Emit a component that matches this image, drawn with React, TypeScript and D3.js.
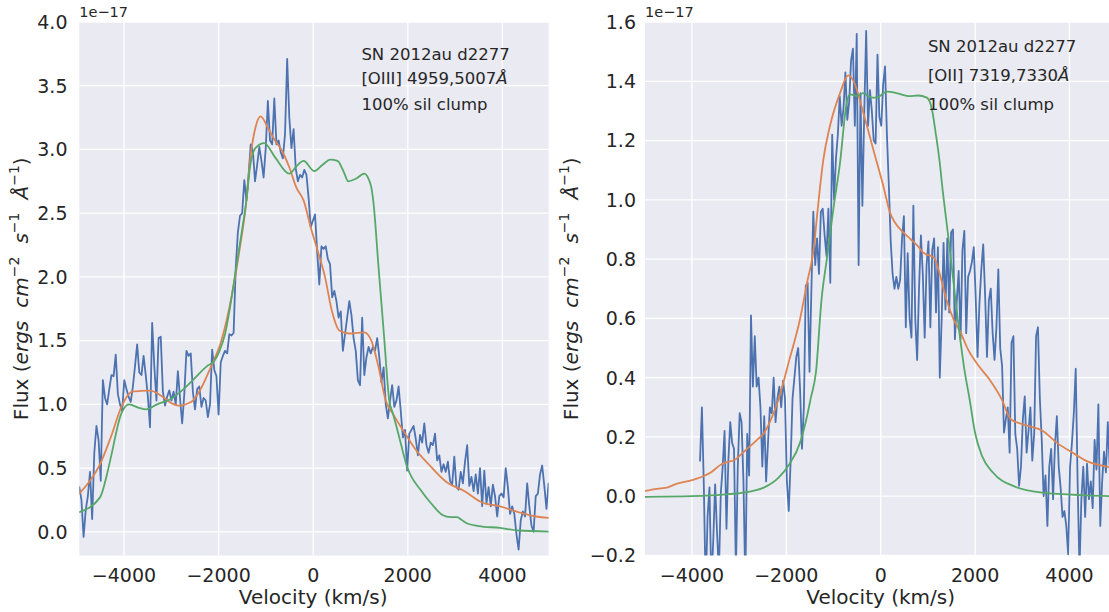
import React from 'react';
import * as d3 from 'd3';

// ---------- Left panel: [OIII] 4959,5007 ----------
const LEFT_BLUE_START = -4945;
const LEFT_BLUE_END = 4977;
const LEFT_BLUE = [
  0.35, 0.25, -0.04, 0.17, 0.28, 0.47, 0.10, 0.62, 0.83, 0.72, 0.40, 1.19,
  1.05, 1.00, 1.12, 1.23, 1.22, 1.39, 1.08, 1.00, 0.95, 1.19, 1.12, 1.06, 1.02, 1.14, 1.30, 1.47, 1.25, 1.23,
  1.38, 1.23, 1.06, 0.82, 1.64, 1.30, 1.03, 1.52, 1.53, 1.10, 0.99, 1.06, 1.11, 1.03, 1.10, 1.00, 1.26, 1.05,
  0.85, 1.08, 1.42, 1.38, 1.40, 1.10, 0.96, 1.12, 1.14, 0.98, 1.05, 1.03, 0.90, 1.00, 1.43, 1.27, 1.22, 0.92,
  1.33, 1.38, 1.42, 1.40, 1.55, 1.54, 1.56, 2.07, 2.35, 2.48, 2.50, 2.76, 2.60, 2.80, 3.04, 2.99, 2.75, 2.88,
  3.02, 2.91, 2.78, 3.01, 3.38, 3.07, 3.04, 3.40, 3.04, 3.07, 2.98, 2.93, 3.12, 3.71, 3.25, 3.01, 3.16, 2.85,
  2.75, 2.80, 2.78, 2.84, 2.80, 2.62, 2.39, 2.44, 2.49, 2.20, 1.94, 2.24, 2.22, 2.24, 2.14, 2.10, 1.84, 1.89,
  1.81, 1.68, 1.73, 1.42, 1.55, 1.68, 1.81, 1.70, 1.52, 1.42, 1.19, 1.15, 1.68, 1.23, 1.37, 1.45, 1.40, 1.45,
  1.42, 1.52, 1.37, 1.17, 1.29, 1.00, 0.89, 1.03, 1.15, 0.98, 1.03, 1.14, 0.95, 0.74, 0.80, 0.48, 0.77, 0.80,
  0.83, 0.73, 0.60, 0.76, 0.70, 0.85, 0.68, 0.62, 0.70, 0.68, 0.77, 0.56, 0.60, 0.47, 0.53, 0.47, 0.55, 0.40,
  0.37, 0.59, 0.35, 0.33, 0.47, 0.38, 0.55, 0.68, 0.36, 0.43, 0.32, 0.45, 0.30, 0.50, 0.20, 0.48, 0.22, 0.35,
  0.20, 0.37, 0.28, 0.12, 0.28, 0.30, 0.27, 0.50, 0.35, 0.14, 0.20, 0.14, -0.02, -0.14, 0.09, 0.16, 0.12, 0.38,
  0.20, 0.05, 0.00, 0.28, 0.30, 0.45, 0.52, 0.36, 0.18, 0.38,
];

const LEFT_ORANGE_V = [
  -4945, -4700, -4507, -4281, -4055, -3900, -3830, -3650, -3450, -3224, -3000, -2847, -2700, -2543, -2393,
  -2167, -1941, -1716, -1562, -1412, -1336, -1222, -1110, -958, -808, -660, -505, -355, -203, -53, 99, 249,
  397, 552, 778, 1080, 1230, 1383, 1533, 1685, 1911, 2137, 2440, 2816, 3194, 3570, 3950, 4330, 4704, 4977,
];
const LEFT_ORANGE_F = [
  0.30, 0.41, 0.53, 0.74, 0.98, 1.08, 1.10, 1.105, 1.107, 1.07, 1.01, 0.99, 1.00, 1.03, 1.11,
  1.29, 1.50, 1.865, 2.20, 2.60, 2.91, 3.17, 3.26, 3.17, 3.07, 2.99, 2.86, 2.70, 2.60, 2.39, 2.20, 2.00,
  1.73, 1.58, 1.556, 1.565, 1.50, 1.29, 1.03, 0.925, 0.79, 0.66, 0.53, 0.39, 0.32, 0.23, 0.20, 0.155, 0.12, 0.11,
];

const LEFT_GREEN_V = [
  -4945, -4507, -4360, -4280, -4055, -3890, -3700, -3527, -3300, -3150, -3072, -2800, -2543, -2245, -2091,
  -1980, -1865, -1750, -1638, -1520, -1412, -1336, -1222, -1034, -808, -505, -350, -203, 23, 200, 363, 514,
  650, 740, 900, 1080, 1180, 1230, 1269, 1383, 1495, 1609, 1685, 1800, 1985, 2288, 2500, 2742, 2900, 3042,
  3150, 3272, 3500, 3950, 4330, 4977,
];
const LEFT_GREEN_F = [
  0.154, 0.27, 0.45, 0.58, 0.93, 1.00, 0.975, 0.96, 1.00, 1.02, 1.03, 1.10, 1.19, 1.30, 1.34,
  1.42, 1.55, 1.78, 2.05, 2.33, 2.60, 2.86, 3.01, 3.05, 2.94, 2.81, 2.87, 2.91, 2.83, 2.88, 2.92, 2.91,
  2.82, 2.75, 2.77, 2.81, 2.76, 2.70, 2.60, 2.07, 1.55, 1.03, 0.93, 0.77, 0.51, 0.32, 0.22, 0.13, 0.115, 0.115,
  0.09, 0.063, 0.045, 0.03, 0.01, 0.002,
];

// ---------- Right panel: [OII] 7319,7330 ----------
const RIGHT_BLUE_START = -3828;
const RIGHT_BLUE_STEP = 40;
const RIGHT_BLUE = [
  0.12, 0.30, 0.04, -0.32, -0.07, 0.03, -0.30, -0.15, 0.04, -0.12, -0.26, 0.01, 0.10, 0.22, -0.11, 0.12,
  0.25, 0.18, 0.16, -0.25, 0.10, 0.28, 0.25, 0.05, -0.30, 0.21, 0.07, 0.61, 0.37, 0.54, 0.37, 0.40,
  0.30, 0.10, 0.27, 0.05, 0.18, 0.30, 0.28, 0.40, 0.25, 0.33, 0.37, 0.30, 0.39, 0.33, 0.05, -0.05,
  0.12, 0.33, 0.40, 0.47, 0.50, 0.36, 0.16, 0.30, 0.71, 0.72, 0.42, 0.70, 0.96, 0.78, 0.87, 0.75,
  0.96, 0.97, 0.88, 0.81, 0.97, 0.72, 1.22, 1.00, 1.14, 1.22, 1.35, 1.25, 1.31, 1.43, 1.27, 1.33,
  1.47, 1.51, 1.25, 1.56, 0.78, 1.36, 0.98, 1.30, 1.57, 1.25, 1.37, 1.30, 1.20, 1.19, 1.49, 1.28,
  1.25, 1.39, 1.45, 1.22, 1.05, 0.86, 0.75, 0.70, 0.74, 0.70, 0.73, 0.87, 0.945, 0.57, 0.82, 0.60,
  0.535, 0.98, 0.60, 0.46, 0.70, 0.88, 0.75, 0.535, 0.78, 0.86, 0.57, 0.83, 0.87, 0.62, 0.84, 0.40,
  0.60, 0.855, 0.63, 0.87, 0.62, 0.89, 0.90, 0.53, 0.66, 0.76, 0.53, 0.83, 0.895, 0.55, 0.74, 0.76,
  0.79, 0.84, 0.675, 0.47, 0.65, 0.765, 0.85, 0.68, 0.47, 0.66, 0.70, 0.55, 0.46, 0.57, 0.765, 0.50,
  0.44, 0.215, 0.26, 0.30, 0.147, 0.518, 0.54, 0.21, 0.16, 0.035, 0.10, 0.26, 0.337, 0.147, 0.22, 0.30,
  0.12, 0.21, 0.54, 0.57, 0.33, 0.19, 0.00, 0.07, -0.10, 0.10, 0.16, -0.01, 0.17, 0.27, 0.10, 0.03,
  -0.07, -0.05, -0.10, -0.196, 0.10, 0.18, 0.28, 0.43, 0.05, -0.25, -0.01, 0.10, -0.07, 0.11, -0.01, 0.05,
  -0.04, 0.19, 0.09, 0.31, -0.10, 0.05, 0.15, 0.08, 0.25, 0.10, 0.00, 0.08,
];

const RIGHT_ORANGE_V = [
  -4994, -4740, -4508, -4358, -3979, -3602, -3375, -3072, -2845, -2620, -2466, -2278, -2163, -1936, -1710,
  -1561, -1407, -1356, -1294, -1216, -1074, -862, -688, -574, -368, -157, 55, 197, 295, 447, 636, 788, 900,
  1129, 1242, 1392, 1544, 1695, 1847, 2074, 2301, 2565, 2754, 3133, 3436, 3735, 4117, 4343, 4858, 5000,
];
const RIGHT_ORANGE_F = [
  0.018, 0.025, 0.03, 0.04, 0.055, 0.08, 0.108, 0.125, 0.158, 0.19, 0.215, 0.277, 0.327, 0.46, 0.597,
  0.72, 0.85, 0.934, 1.03, 1.135, 1.25, 1.36, 1.42, 1.40, 1.294, 1.17, 1.047, 0.957, 0.925, 0.895, 0.867, 0.844, 0.822,
  0.805, 0.755, 0.664, 0.597, 0.552, 0.496, 0.44, 0.395, 0.327, 0.26, 0.237, 0.22, 0.18, 0.142, 0.12, 0.097, 0.09,
];

const RIGHT_GREEN_V = [
  -4994, -4000, -3223, -2800, -2466, -2163, -1936, -1710, -1561, -1483, -1371, -1256, -1142, -1004, -862,
  -720, -650, -502, -368, -200, -85, 127, 295, 447, 600, 788, 977, 1087, 1165, 1242, 1318, 1430, 1544,
  1659, 1771, 1884, 1998, 2146, 2377, 2831, 3436, 4343, 5000,
];
const RIGHT_GREEN_F = [
  -0.002, 0.0, 0.007, 0.015, 0.03, 0.063, 0.108, 0.18, 0.27, 0.33, 0.42, 0.66, 0.80, 0.968, 1.125,
  1.328, 1.356, 1.35, 1.36, 1.345, 1.345, 1.365, 1.362, 1.355, 1.35, 1.352, 1.345, 1.305, 1.225, 1.137, 1.025, 0.878, 0.72,
  0.563, 0.43, 0.327, 0.215, 0.136, 0.08, 0.033, 0.012, 0.003, 0.0,
];

const X_TICKS = [-4000, -2000, 0, 2000, 4000];
const LEFT_Y_TICKS = [0, 0.5, 1.0, 1.5, 2.0, 2.5, 3.0, 3.5, 4.0];
const RIGHT_Y_TICKS = [-0.2, 0, 0.2, 0.4, 0.6, 0.8, 1.0, 1.2, 1.4, 1.6];

const LEFT_NOTES = ['SN 2012au d2277', '[OIII] 4959,5007', '100% sil clump'];
const RIGHT_NOTES = ['SN 2012au d2277', '[OII] 7319,7330', '100% sil clump'];

const BLUE = '#4C72B0';
const ORANGE = '#DD8452';
const GREEN = '#55A868';
const TEXT = '#262626';
const FONT = 'DejaVu Sans, sans-serif';

const TOP = 22;
const BOTTOM = 555.5;

const fmtX = (v: number) => (v < 0 ? '\u2212' + Math.abs(v) : String(v));
const fmtY = (v: number) => (v < 0 ? '\u2212' + Math.abs(v).toFixed(1) : v.toFixed(1));

type PanelProps = {
  id: string;
  x0: number;
  x1: number;
  xDomain: [number, number];
  yDomain: [number, number];
  yTicks: number[];
  tickEnd: number;
  blue: [number, number][];
  orange: [number, number][];
  green: [number, number][];
  notes: string[];
  noteX: number;
  noteY: number[];
  ylabelX: number;
};

function Panel(p: PanelProps) {
  const x = d3.scaleLinear().domain(p.xDomain).range([p.x0, p.x1]);
  const y = d3.scaleLinear().domain(p.yDomain).range([BOTTOM, TOP]);
  const jag = d3
    .line<[number, number]>()
    .x((d) => x(d[0]))
    .y((d) => y(d[1]));
  const smooth = d3
    .line<[number, number]>()
    .x((d) => x(d[0]))
    .y((d) => y(d[1]))
    .curve(d3.curveMonotoneX);
  const cx = (p.x0 + Math.min(p.x1, 1109 + 7)) / 2;
  const midY = (TOP + BOTTOM) / 2;
  return (
    <g>
      <defs>
        <clipPath id={p.id}>
          <rect x={p.x0} y={TOP} width={p.x1 - p.x0} height={BOTTOM - TOP} />
        </clipPath>
      </defs>
      <rect x={p.x0} y={TOP} width={p.x1 - p.x0} height={BOTTOM - TOP} fill="#EAEAF2" />
      {X_TICKS.map((t) => (
        <line key={'gx' + t} x1={x(t)} x2={x(t)} y1={TOP} y2={BOTTOM} stroke="#fff" strokeWidth={1.3} />
      ))}
      {p.yTicks.map((t) => (
        <line key={'gy' + t} x1={p.x0} x2={p.x1} y1={y(t)} y2={y(t)} stroke="#fff" strokeWidth={1.3} />
      ))}
      <g clipPath={`url(#${p.id})`} fill="none" strokeLinejoin="round" strokeLinecap="round">
        <path d={jag(p.blue) || ''} stroke={BLUE} strokeWidth={1.8} />
        <path d={smooth(p.orange) || ''} stroke={ORANGE} strokeWidth={1.8} />
        <path d={smooth(p.green) || ''} stroke={GREEN} strokeWidth={1.8} />
      </g>
      {X_TICKS.map((t) => (
        <text key={'tx' + t} x={x(t)} y={582} textAnchor="middle" fontSize={19} fill={TEXT} fontFamily={FONT}>
          {fmtX(t)}
        </text>
      ))}
      {p.yTicks.map((t) => (
        <text key={'ty' + t} x={p.tickEnd} y={y(t)} dy="0.36em" textAnchor="end" fontSize={19} fill={TEXT} fontFamily={FONT}>
          {fmtY(t)}
        </text>
      ))}
      <text x={p.x0} y={17} fontSize={14.5} fill={TEXT} fontFamily={FONT}>
        1e{'\u2212'}17
      </text>
      <text x={x(0)} y={604} textAnchor="middle" fontSize={20} fill={TEXT} fontFamily={FONT}>
        Velocity (km/s)
      </text>
      <text
        transform={`translate(${p.ylabelX},${midY}) rotate(-90)`}
        textAnchor="middle"
        fontSize={20}
        fill={TEXT}
        fontFamily={FONT}
      >
        <tspan>Flux (</tspan>
        <tspan fontStyle="italic">ergs</tspan>
        <tspan dx={13} fontStyle="italic">cm</tspan>
        <tspan fontSize={14} dy={-9}>{'\u2212'}2</tspan>
        <tspan dx={13} dy={9} fontStyle="italic">s</tspan>
        <tspan fontSize={14} dy={-9}>{'\u2212'}1</tspan>
        <tspan dx={13} dy={9} fontStyle="italic">Å</tspan>
        <tspan fontSize={14} dy={-9}>{'\u2212'}1</tspan>
        <tspan dy={9}>)</tspan>
      </text>
      {p.notes.map((n, i) => (
        <text key={'n' + i} x={p.noteX} y={p.noteY[i]} fontSize={16.5} fill={TEXT} fontFamily={FONT}>
          {n}
          {i === 1 ? <tspan fontStyle="italic">Å</tspan> : null}
        </text>
      ))}
    </g>
  );
}

export default function App() {
  const leftStep = (LEFT_BLUE_END - LEFT_BLUE_START) / (LEFT_BLUE.length - 1);
  const leftBlue: [number, number][] = LEFT_BLUE.map((f, i) => [LEFT_BLUE_START + i * leftStep, f]);
  const leftOrange: [number, number][] = LEFT_ORANGE_V.map((v, i) => [v, LEFT_ORANGE_F[i]]);
  const leftGreen: [number, number][] = LEFT_GREEN_V.map((v, i) => [v, LEFT_GREEN_F[i]]);
  const rightBlue: [number, number][] = RIGHT_BLUE.map((f, i) => [RIGHT_BLUE_START + i * RIGHT_BLUE_STEP, f]);
  const rightOrange: [number, number][] = RIGHT_ORANGE_V.map((v, i) => [v, RIGHT_ORANGE_F[i]]);
  const rightGreen: [number, number][] = RIGHT_GREEN_V.map((v, i) => [v, RIGHT_GREEN_F[i]]);

  return (
    <svg
      width={1109}
      height={612}
      style={{ position: 'absolute', left: 0, top: 0, background: '#fff' }}
    >
      <rect x={0} y={0} width={1109} height={612} fill="#fff" />
      <Panel
        id="clipL"
        x0={79.3}
        x1={548.6}
        xDomain={[-4945, 4977]}
        yDomain={[-0.186, 4.0]}
        yTicks={LEFT_Y_TICKS}
        tickEnd={67.5}
        blue={leftBlue}
        orange={leftOrange}
        green={leftGreen}
        notes={LEFT_NOTES}
        noteX={361.4}
        noteY={[60, 84, 110]}
        ylabelX={28}
      />
      <Panel
        id="clipR"
        x0={645}
        x1={1116.4}
        xDomain={[-4994, 4994]}
        yDomain={[-0.2, 1.6]}
        yTicks={RIGHT_Y_TICKS}
        tickEnd={636}
        blue={rightBlue}
        orange={rightOrange}
        green={rightGreen}
        notes={RIGHT_NOTES}
        noteX={927.9}
        noteY={[52, 81, 110]}
        ylabelX={578}
      />
    </svg>
  );
}
